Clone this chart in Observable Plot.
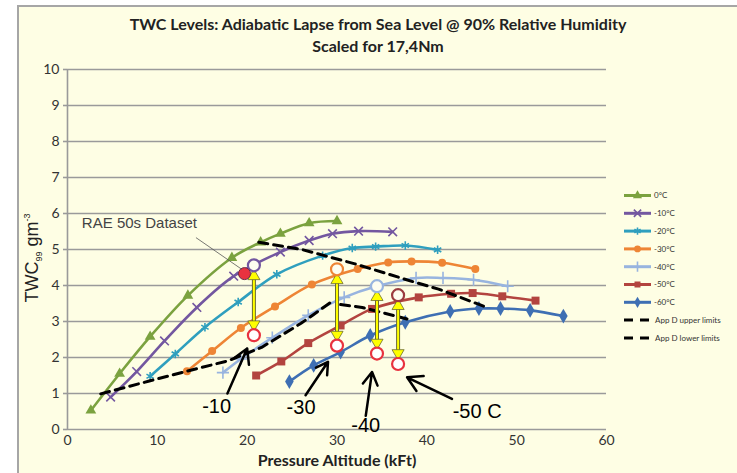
<!DOCTYPE html>
<html><head><meta charset="utf-8">
<script src="https://cdn.jsdelivr.net/npm/d3@7"></script>
<script src="https://cdn.jsdelivr.net/npm/@observablehq/plot@0.6"></script>
<style>
html,body{margin:0;padding:0;background:#fff;}
#chart{position:relative;width:737px;height:473px;overflow:hidden;}
</style></head>
<body><div id="chart"></div>
<script>
// ---- data ----
const seriesNames = ["0°C","-10°C","-20°C","-30°C","-40°C","-50°C","-60°C"];
const seriesColors = ["#7ba23f","#7357a0","#2f9fbe","#ee8535","#98b4df","#b3443f","#3e6fb3"];
const seriesSymbols = ["triangle","times","asterisk","circle","plus","square","diamond"];
const x0 = [2.6,5.8,9.2,13.4,18.3,21.5,23.7,26.9,30.0];
const y0 = [0.53,1.55,2.58,3.72,4.77,5.2,5.44,5.73,5.79];
const x10 = [4.8,7.7,10.8,14.4,18.5,23.7,26.9,29.5,32.4,36.2];
const y10 = [0.90,1.61,2.46,3.39,4.26,4.93,5.25,5.44,5.51,5.49];
const x20 = [9.2,12.0,15.3,19.0,23.3,28.4,31.7,34.3,37.6,41.2];
const y20 = [1.48,2.10,2.84,3.54,4.31,4.83,5.04,5.08,5.11,4.99];
const x30 = [13.3,16.1,19.3,23.1,27.2,32.3,35.7,38.3,41.7,45.4];
const y30 = [1.62,2.18,2.82,3.42,4.03,4.46,4.64,4.67,4.63,4.46];
const x40 = [17.3,19.3,22.8,26.8,30.8,34.3,38.8,41.8,45.2,49.0];
const y40 = [1.58,1.96,2.55,3.17,3.67,3.97,4.21,4.21,4.16,3.98];
const x50 = [21.0,23.8,26.8,30.4,33.9,39.1,42.7,45.1,48.4,52.1];
const y50 = [1.50,1.89,2.40,2.89,3.35,3.67,3.77,3.79,3.70,3.58];
const x60 = [24.7,27.4,30.4,33.7,37.6,42.6,45.8,48.2,51.5,55.2];
const y60 = [1.33,1.78,2.15,2.61,2.98,3.28,3.36,3.36,3.31,3.15];
const upperX = [21.3,26.1,32.0,38.8,41.3,46.9];
const upperY = [5.2,5.0,4.6,4.08,3.9,3.37];
const lowerX = [3.7,9.0,13.3,17.9,21.6,26.0,29.3];
const lowerY = [0.99,1.34,1.62,1.91,2.28,2.95,3.53];
const lower2X = [30.4,32.8,37.8];
const lower2Y = [3.47,3.39,3.07];
// annotation arrows (yellow, double headed)
const arrowX = [20.75,30.0,34.45,36.8];
const arrowTop = [4.56,4.45,3.98,3.73];
const arrowBottom = [2.62,2.33,2.11,1.82];
const arrowTopColor = ["#7357a0","#ee8535","#98b4df","#9b3b3f"];
const raeX = [19.7], raeY = [4.33];
const calloutLabels = ["-10","-30","-40","-50 C"];
const calloutTextX = [16.6,26.0,33.2,45.6];
const calloutTextY = [0.65,0.62,0.1,0.5];
const calloutFromX = [17.8,26.5,33.2,42.8];
const calloutFromY = [1.0,0.95,0.38,0.85];
const calloutToX = [20.0,29.0,33.9,37.8];
const calloutToY = [2.25,1.88,1.6,1.45];
const yTicks = [0,1,2,3,4,5,6,7,8,9,10];
const xTicks = [0,10,20,30,40,50,60];

const allX = [x0,x10,x20,x30,x40,x50,x60], allY = [y0,y10,y20,y30,y40,y50,y60];
const pts = [];
allX.forEach((xs,i)=>xs.forEach((x,j)=>pts.push({s:seriesNames[i], x, y:allY[i][j], k:i})));
const up = upperX.map((x,i)=>({x,y:upperY[i]}));
const lo = lowerX.map((x,i)=>({x,y:lowerY[i]}));
const lo2 = lower2X.map((x,i)=>({x,y:lower2Y[i]}));
const arrows = arrowX.map((x,i)=>({x,top:arrowTop[i],bot:arrowBottom[i],c:arrowTopColor[i]}));
const callouts = calloutLabels.map((t,i)=>({t,tx:calloutTextX[i],ty:calloutTextY[i],x1:calloutFromX[i],y1:calloutFromY[i],x2:calloutToX[i],y2:calloutToY[i]}));

const font = "Lato, 'Open Sans', sans-serif";
const marks = [
  Plot.ruleY(yTicks,{stroke:"#9a9a9a",strokeWidth:1.6}),
  Plot.ruleX([0],{stroke:"#9a9a9a",strokeWidth:1.6}),
];
seriesNames.forEach((n,i)=>{
  const d = pts.filter(p=>p.k===i);
  marks.push(Plot.line(d,{x:"x",y:"y",stroke:seriesColors[i],strokeWidth:2.6,curve:"catmull-rom"}));
  const sym = seriesSymbols[i];
  const filled = !["times","asterisk","plus"].includes(sym);
  marks.push(Plot.dot(d,{x:"x",y:"y",symbol:()=>sym,r: sym==="square"?4.5:(sym==="diamond"?4.5:4),
     fill: filled?seriesColors[i]:"none", stroke: filled?"none":seriesColors[i], strokeWidth:1.6}));
});
marks.push(
  Plot.line(up,{x:"x",y:"y",stroke:"#000",strokeWidth:3,strokeDasharray:"9,6"}),
  Plot.line(lo,{x:"x",y:"y",stroke:"#000",strokeWidth:3,strokeDasharray:"9,6"}),
  Plot.line(lo2,{x:"x",y:"y",stroke:"#000",strokeWidth:3,strokeDasharray:"9,6"}),
  // yellow arrows
  Plot.link(arrows,{x1:"x",x2:"x",y1:d=>d.bot+0.12,y2:d=>d.top-0.12,stroke:"#6b6b30",strokeWidth:4}),
  Plot.link(arrows,{x1:"x",x2:"x",y1:d=>d.bot+0.12,y2:d=>d.top-0.12,stroke:"#ffff00",strokeWidth:2}),
  Plot.dot(arrows,{x:"x",y:d=>d.top-0.3,symbol:"triangle",r:4.5,fill:"#ffff00",stroke:"#6b6b30",strokeWidth:0.8}),
  Plot.dot(arrows,{x:"x",y:d=>d.bot+0.3,symbol:"triangle",rotate:180,r:4.5,fill:"#ffff00",stroke:"#6b6b30",strokeWidth:0.8}),
  Plot.dot(arrows,{x:"x",y:"bot",r:6,fill:"#fff",stroke:"#e8323f",strokeWidth:2.2}),
  Plot.dot(arrows,{x:"x",y:"top",r:6,fill:"#fdfdf0",stroke:"c",strokeWidth:2.2}),
  Plot.dot(raeX.map((x,i)=>({x,y:raeY[i]})),{x:"x",y:"y",r:6,fill:"#e8323f",stroke:"#6a2a4a",strokeWidth:1}),
  Plot.link([{x1:14.3,y1:5.33,x2:19.4,y2:4.45}],{x1:"x1",y1:"y1",x2:"x2",y2:"y2",stroke:"#555",strokeWidth:0.8}),
  Plot.text(["RAE 50s Dataset"],{x:1.6,y:5.73,textAnchor:"start",fontSize:15,fill:"#444",fontFamily:"'Liberation Sans', Arial, sans-serif"}),
  Plot.arrow(callouts,{x1:"x1",y1:"y1",x2:"x2",y2:"y2",stroke:"#000",strokeWidth:2.5,headLength:14,bend:false}),
  Plot.text(callouts,{x:"tx",y:"ty",text:"t",textAnchor:"middle",fontSize:20,fill:"#000",fontFamily:"'Liberation Sans', Arial, sans-serif"})
);

const plot = Plot.plot({
  width:737, height:473,
  marginLeft:67, marginRight:131, marginTop:69, marginBottom:44,
  style:{background:"transparent", fontFamily:font},
  x:{type:"linear", domain:[0,60], ticks:xTicks, tickSize:0, tickPadding:6, label:null},
  y:{type:"linear", domain:[0,10], ticks:yTicks, tickSize:4, tickPadding:4, label:null},
  marks
});
const svg = d3.select(plot);
svg.insert("rect",":first-child").attr("x",18).attr("y",6).attr("width",740).attr("height",480)
  .attr("fill","#fefee4").attr("stroke","#a6a6a6").attr("stroke-width",2);
svg.selectAll("[aria-label='x-axis tick label'] text, [aria-label='y-axis tick label'] text")
  .attr("font-size",14).attr("fill","#333").attr("font-family",font);
svg.select("[aria-label='y-axis tick']").attr("stroke","#9a9a9a").attr("stroke-width",1.6);
// titles
svg.append("text").attr("x",378).attr("y",30).attr("text-anchor","middle").attr("font-family",font)
  .attr("font-weight","bold").attr("font-size",16).attr("fill","#222").text("TWC Levels: Adiabatic Lapse from Sea Level @ 90% Relative Humidity");
svg.append("text").attr("x",378).attr("y",52).attr("text-anchor","middle").attr("font-family",font)
  .attr("font-weight","bold").attr("font-size",16).attr("fill","#222").text("Scaled for 17,4Nm");
svg.append("text").attr("x",337).attr("y",466).attr("text-anchor","middle").attr("font-family",font)
  .attr("font-weight","bold").attr("font-size",16).attr("fill","#222").text("Pressure Altitude (kFt)");
const yl = svg.append("text").attr("transform","translate(38,258) rotate(-90)").attr("text-anchor","middle")
  .attr("font-family","'Liberation Sans', Arial, sans-serif").attr("font-size",18).attr("fill","#222");
yl.append("tspan").text("TWC");
yl.append("tspan").attr("font-size",9).attr("dy",4).text("99");
yl.append("tspan").attr("dy",-4).text(" gm");
yl.append("tspan").attr("font-size",9).attr("dy",-8).text("-3");
// legend
const legendNames = seriesNames.concat(["App D upper limits","App D lower limits"]);
legendNames.forEach((n,i)=>{
  const y = 195.5 + i*17.8;
  const g = svg.append("g");
  if (i<7){
    g.append("line").attr("x1",624).attr("x2",651).attr("y1",y).attr("y2",y).attr("stroke",seriesColors[i]).attr("stroke-width",3);
    const sym = d3.symbol().type({triangle:d3.symbolTriangle,times:d3.symbolTimes,asterisk:d3.symbolAsterisk,circle:d3.symbolCircle,plus:d3.symbolPlus,square:d3.symbolSquare,diamond:d3.symbolDiamond}[seriesSymbols[i]]).size(36);
    const filled = !["times","asterisk","plus"].includes(seriesSymbols[i]);
    g.append("path").attr("d",sym()).attr("transform",`translate(637.5,${y})`)
      .attr("fill",filled?seriesColors[i]:"none").attr("stroke",filled?"none":seriesColors[i]).attr("stroke-width",1.6);
  } else {
    g.append("line").attr("x1",624).attr("x2",651).attr("y1",y).attr("y2",y).attr("stroke","#000").attr("stroke-width",3).attr("stroke-dasharray","9,7");
  }
  g.append("text").attr("x",i<7?654:655).attr("y",y).attr("dy","0.35em").attr("text-anchor","start").attr("font-family",font)
    .attr("font-size",8).attr("fill","#333").text(n);
});
document.getElementById("chart").appendChild(plot);
</script></body></html>
